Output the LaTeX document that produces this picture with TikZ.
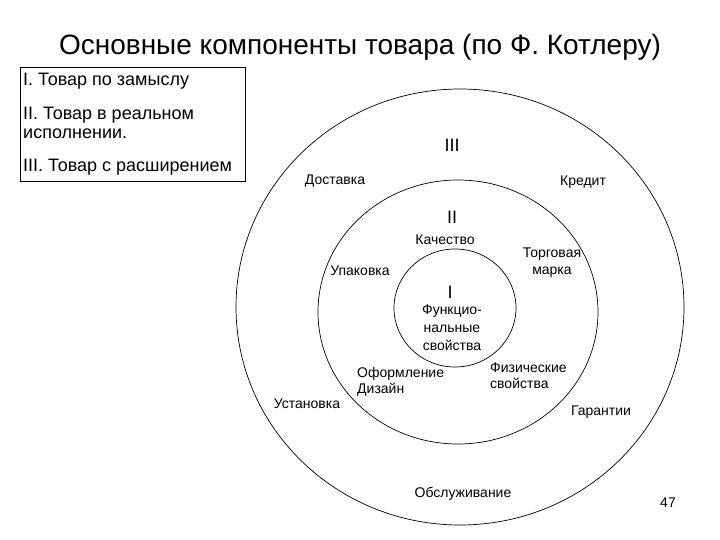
\documentclass[tikz,border=0pt]{standalone}
\usepackage{fontspec}
\setmainfont{Liberation Sans}
\begin{document}
\begin{tikzpicture}[x=1pt,y=-1pt,
  lbl/.style={font=\fontsize{14}{16}\selectfont, inner sep=0pt, align=center},
  lbll/.style={font=\fontsize{14}{16}\selectfont, inner sep=0pt, align=left},
  roman/.style={font=\fontsize{18}{20}\selectfont, inner sep=0pt},
  boxt/.style={font=\fontsize{18}{19}\selectfont, inner sep=0pt, anchor=west},
  ring/.style={draw=black, line width=0.7pt}]
\useasboundingbox (0,0) rectangle (720,540);
% title
\node[font=\fontsize{28}{32}\selectfont, inner sep=0pt] (title) at (360,47) {Основные компоненты товара (по Ф. Котлеру)};
% legend box
\draw[line width=0.7pt] (20,67) rectangle (245,181);
\node[boxt] (l1) at (23,81) {I. Товар по замыслу};
\node[boxt, align=left] (l2) at (23,123) {II. Товар в реальном\\исполнении.};
\node[boxt] (l3) at (23,167) {III. Товар с расширением};
% rings
\draw[ring] (460,307) ellipse [x radius=224, y radius=218];
\draw[ring] (458,312) ellipse [x radius=140, y radius=132];
\draw[ring] (455,308) ellipse [x radius=61, y radius=59];
% labels
\node[roman] (r3) at (452,145) {III};
\node[lbl] (dost) at (335,181) {Доставка};
\node[lbl] (kred) at (583,182) {Кредит};
\node[roman] (r2) at (452,217) {II};
\node[lbl] (kach) at (445,240) {Качество};
\node[lbl, font=\fontsize{14}{17}\selectfont] (torg) at (552,263) {Торговая\\марка};
\node[lbl] (upak) at (360,271) {Упаковка};
\node[roman] (r1) at (450,292) {I};
\node[lbl, font=\fontsize{14}{18}\selectfont] (func) at (452,328) {Функцио-\\нальные\\свойства};
\node[lbll, anchor=west, font=\fontsize{14}{16}\selectfont] (ofor) at (357,382) {Оформление\\Дизайн};
\node[lbll, anchor=west, font=\fontsize{14}{16}\selectfont] (fiz) at (490,376) {Физические\\свойства};
\node[lbl] (ust) at (307,404) {Установка};
\node[lbl] (gar) at (601,412) {Гарантии};
\node[lbl] (obsl) at (463,494) {Обслуживание};
\node[lbl] (num) at (668,503) {47};
\end{tikzpicture}
\end{document}
